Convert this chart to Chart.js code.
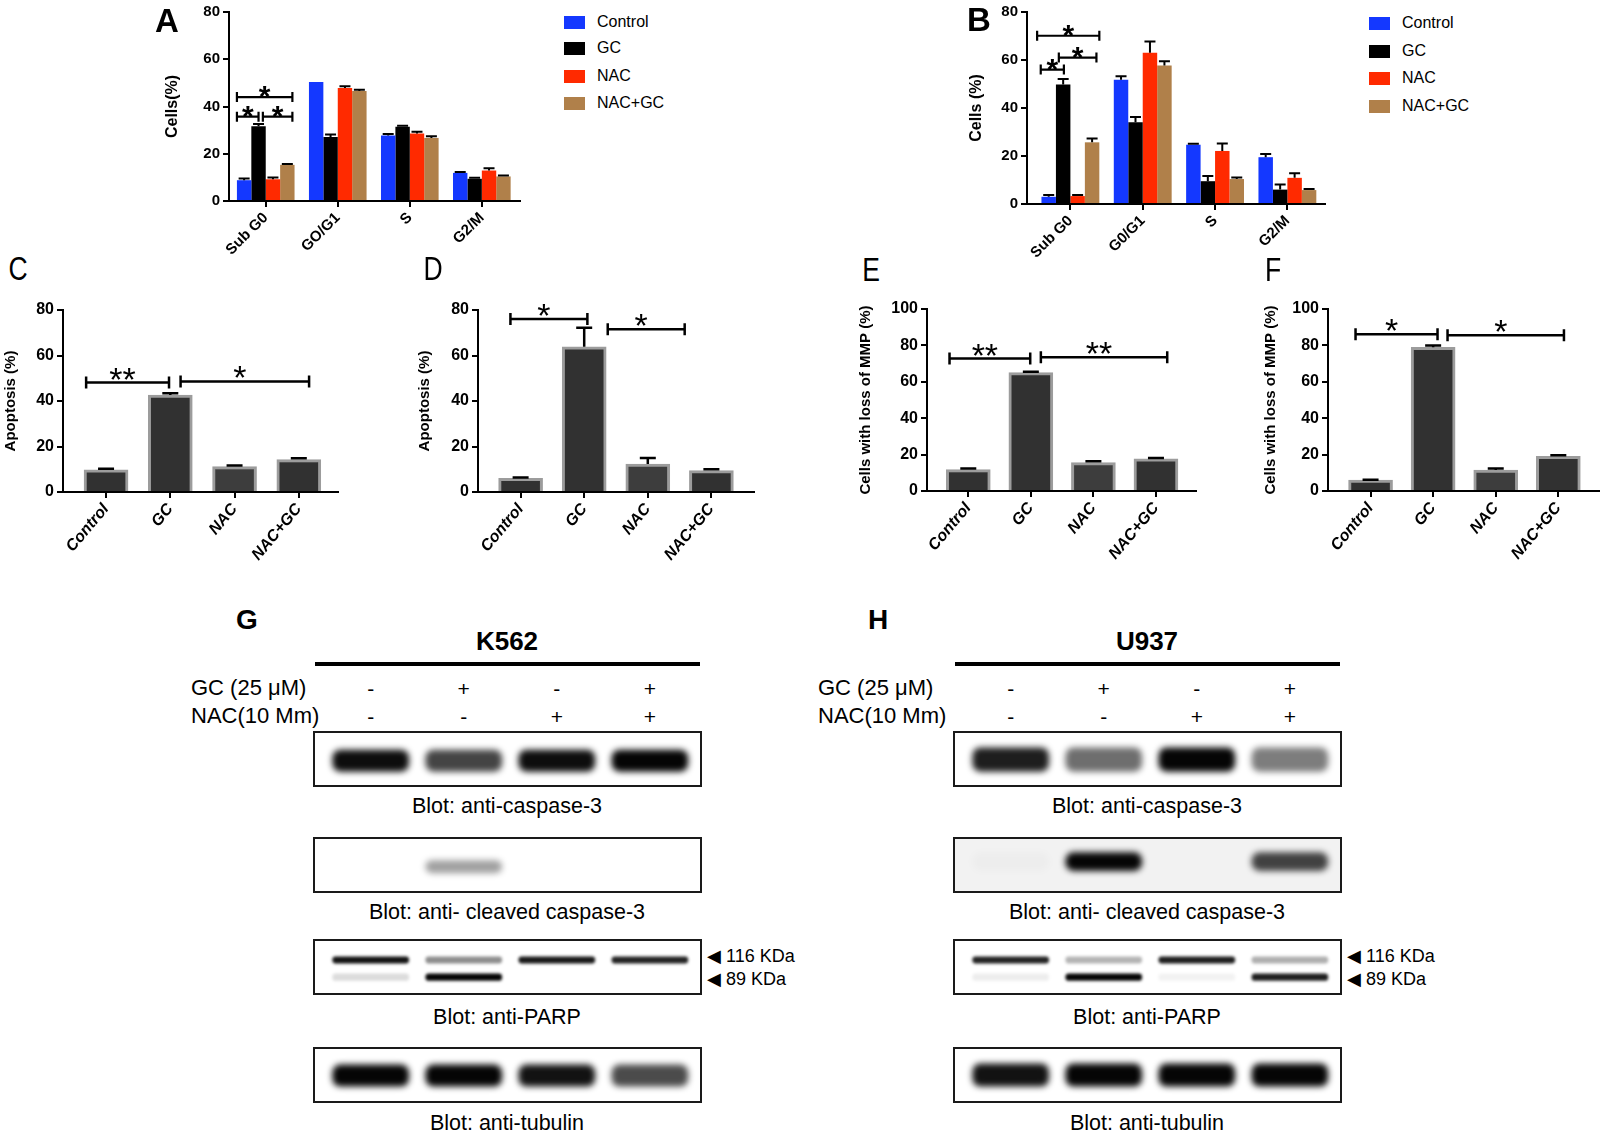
<!DOCTYPE html>
<html>
<head>
<meta charset="utf-8">
<script src="https://cdn.jsdelivr.net/npm/chart.js@4.4.1/dist/chart.umd.min.js"></script>
<style>
  body { margin: 0; background: #fff; width: 1603px; height: 1136px; position: relative; overflow: hidden;
         font-family: "Liberation Sans", Arial, sans-serif; color: #000; }
  .box { position: absolute; }
  .txt { position: absolute; white-space: nowrap; line-height: 1; }
  .sw { position: absolute; }
</style>
</head>
<body>

<div class="box" style="left:161px;top:0px;width:370px;height:262px"><canvas id="chartA"></canvas></div>
<div class="box" style="left:965px;top:0px;width:370px;height:265px"><canvas id="chartB"></canvas></div>
<div class="box" style="left:0px;top:290px;width:345px;height:290px"><canvas id="chartC"></canvas></div>
<div class="box" style="left:414px;top:290px;width:350px;height:290px"><canvas id="chartD"></canvas></div>
<div class="box" style="left:855px;top:290px;width:350px;height:290px"><canvas id="chartE"></canvas></div>
<div class="box" style="left:1260px;top:290px;width:343px;height:290px"><canvas id="chartF"></canvas></div>

<script>
// ---- data ----
const phasesA = ['Sub G0', 'GO/G1', 'S', 'G2/M'];
const phasesB = ['Sub G0', 'G0/G1', 'S', 'G2/M'];
const treatments = ['Control', 'GC', 'NAC', 'NAC+GC'];
const treatColors = ['#1438ff', '#000000', '#ff2a00', '#b0804a'];

// panel A, cell cycle (%)
const aControl = [8.8, 50.4, 27.7, 11.9];
const aGC = [31.6, 27.1, 31.4, 9.4];
const aNAC = [9.2, 47.8, 28.6, 12.9];
const aNACGC = [15.3, 46.6, 26.7, 10.4];
const aControlErr = [0.7, 0, 0.7, 0.4];
const aGCErr = [1.0, 1.0, 0.4, 0.4];
const aNACErr = [0.7, 0.8, 0.7, 1.0];
const aNACGCErr = [0.4, 0.5, 0.7, 0.4];

// panel B, cell cycle (%)
const bControl = [3.0, 51.8, 24.7, 19.5];
const bGC = [49.8, 34.1, 9.5, 6.0];
const bNAC = [3.3, 63.0, 22.1, 10.9];
const bNACGC = [25.7, 57.7, 10.4, 5.8];
const bControlErr = [0.8, 1.4, 0.4, 1.3];
const bGCErr = [2.3, 2.2, 2.2, 2.1];
const bNACErr = [0.4, 4.7, 3.1, 1.9];
const bNACGCErr = [1.6, 1.8, 0.6, 0.5];

// panels C-F
const cApoptosis = [9.8, 42.6, 11.2, 14.3];
const cErr = [0.4, 0.8, 0.4, 0.5];
const dApoptosis = [6.0, 63.8, 12.3, 9.4];
const dErr = [0.4, 8.4, 2.6, 0.6];
const eMMP = [11.8, 65.0, 15.6, 17.7];
const eErr = [0.5, 0.5, 0.8, 0.5];
const fMMP = [6.0, 79.0, 11.5, 19.0];
const fErr = [0.2, 1.0, 0.9, 0.6];

// western blots: band intensity per lane (0 = none, 1 = saturated)
const lanes = [0, 1, 2, 3];
const gcSigns = ['-', '+', '-', '+'];
const nacSigns = ['-', '-', '+', '+'];
const k562Casp3 = [0.97, 0.75, 0.97, 1.0];
const k562Cleaved = [0, 0.38, 0, 0];
const k562Parp116 = [0.95, 0.45, 0.92, 0.88];
const k562Parp89 = [0.14, 1.0, 0, 0];
const k562Tubulin = [1.0, 1.0, 0.95, 0.72];
const u937Casp3 = [0.9, 0.58, 1.0, 0.52];
const u937Cleaved = [0.02, 1.0, 0, 0.75];
const u937Parp116 = [0.88, 0.3, 0.9, 0.32];
const u937Parp89 = [0.07, 1.0, 0.05, 0.9];
const u937Tubulin = [0.95, 1.0, 1.0, 1.0];

// ---- plugins ----
Chart.defaults.animation = false;
Chart.defaults.color = '#000';
Chart.defaults.font.family = '"Liberation Sans", Arial, sans-serif';

const errorBars = {
  id: 'errorBars',
  afterDatasetsDraw(chart, args, opts) {
    const ctx = chart.ctx, ys = chart.scales.y;
    chart.data.datasets.forEach((ds, di) => {
      if (!ds.errors) return;
      chart.getDatasetMeta(di).data.forEach((bar, i) => {
        const e = ds.errors[i];
        if (!e) return;
        const top = ys.getPixelForValue(ys.getValueForPixel(bar.y) + e);
        ctx.save();
        ctx.strokeStyle = '#000';
        ctx.lineWidth = opts.lineWidth || 2;
        ctx.beginPath();
        ctx.moveTo(bar.x, bar.y);
        ctx.lineTo(bar.x, top);
        ctx.moveTo(bar.x - opts.cap / 2, top);
        ctx.lineTo(bar.x + opts.cap / 2, top);
        ctx.stroke();
        ctx.restore();
      });
    });
  }
};

const brackets = {
  id: 'brackets',
  afterDraw(chart, args, opts) {
    if (!opts.items) return;
    const ctx = chart.ctx, xs = chart.scales.x, ys = chart.scales.y;
    const px = (p) => {
      if (typeof p === 'number') return xs.getPixelForValue(p);
      const bar = chart.getDatasetMeta(p[0]).data[p[1]];
      return bar.x + p[2] * bar.width;
    };
    opts.items.forEach(it => {
      const x1 = px(it.from), x2 = px(it.to), y = ys.getPixelForValue(it.y);
      ctx.save();
      ctx.strokeStyle = '#000';
      ctx.lineWidth = opts.lineWidth;
      ctx.beginPath();
      ctx.moveTo(x1, y); ctx.lineTo(x2, y);
      ctx.moveTo(x1, y - opts.tick); ctx.lineTo(x1, y + opts.tick);
      ctx.moveTo(x2, y - opts.tick); ctx.lineTo(x2, y + opts.tick);
      ctx.stroke();
      ctx.fillStyle = '#000';
      ctx.font = opts.font;
      ctx.textAlign = 'center';
      ctx.textBaseline = 'alphabetic';
      ctx.fillText(it.text, (x1 + x2) / 2 + (opts.shift || 0), y + opts.raise);
      ctx.restore();
    });
  }
};

function axisY(title, max, width, tickFont, titleFont) {
  return {
    min: 0, max: max,
    afterFit: s => { s.width = width; },
    ticks: { stepSize: 20, font: tickFont, padding: 3 },
    grid: { drawOnChartArea: false, tickLength: 6, color: '#000', lineWidth: 2 },
    border: { color: '#000', width: 2 },
    title: { display: true, text: title, font: titleFont, padding: { top: 2, bottom: 2 } }
  };
}

// x axis on a linear scale so the axis line can run past the outer bars, as in the figure
function axisX(names, min, max, height, rot, font) {
  return {
    type: 'linear', min: min, max: max, offset: false,
    afterBuildTicks: s => { s.ticks = lanes.map(v => ({ value: v })); },
    afterFit: s => { s.height = height; },
    ticks: { autoSkip: false, minRotation: rot, maxRotation: rot, callback: v => names[v], font: font, padding: 2 },
    grid: { offset: false, drawOnChartArea: false, tickLength: 6, color: '#000', lineWidth: 2 },
    border: { color: '#000', width: 2 }
  };
}

// ---- grouped cell-cycle charts ----
function cycleChart(id, cats, vals, errs, yTitle, lay, items) {
  return new Chart(document.getElementById(id), {
    type: 'bar',
    data: {
      datasets: treatments.map((t, k) => ({
        label: t, data: lanes.map(i => ({ x: i, y: vals[k][i] })), errors: errs[k],
        backgroundColor: treatColors[k], borderWidth: 0,
        categoryPercentage: 0.8, barPercentage: 1.0
      }))
    },
    options: {
      responsive: true, maintainAspectRatio: false,
      layout: { padding: { top: lay.pt, right: lay.pr, left: 0, bottom: 0 } },
      plugins: {
        legend: { display: false }, tooltip: { enabled: false },
        errorBars: { cap: 11, lineWidth: 2 },
        brackets: { items: items, lineWidth: 2.2, tick: 5, font: 'bold 30px "Liberation Sans", Arial', raise: 9 }
      },
      scales: {
        x: axisX(cats, lay.min, lay.max, lay.xh, 45, { size: 15, weight: 'bold' }),
        y: axisY(yTitle, 80, lay.yw, { size: 15, weight: 'bold' }, { size: 16, weight: 'bold' })
      }
    },
    plugins: [errorBars, brackets]
  });
}

cycleChart('chartA', phasesA, [aControl, aGC, aNAC, aNACGC], [aControlErr, aGCErr, aNACErr, aNACGCErr],
  'Cells(%)', { pt: 8, pr: 11, xh: 61, yw: 68, min: -0.51, max: 3.53 }, [
    { from: [0, 0, -0.5], to: [3, 0, 0.35], y: 44, text: '*' },
    { from: [0, 0, -0.5], to: [1, 0, 0], y: 35.7, text: '*' },
    { from: [1, 0, 0.3], to: [3, 0, 0.35], y: 35.7, text: '*' }
  ]);

cycleChart('chartB', phasesB, [bControl, bGC, bNAC, bNACGC], [bControlErr, bGCErr, bNACErr, bNACGCErr],
  'Cells (%)', { pt: 10, pr: 10, xh: 61, yw: 62, min: -0.6, max: 3.52 }, [
    { from: [0, 0, -0.8], to: [3, 0, 0.5], y: 70.1, text: '*' },
    { from: [1, 0, -0.3], to: [3, 0, 0.3], y: 61, text: '*' },
    { from: [0, 0, -0.55], to: [1, 0, 0.05], y: 56, text: '*' }
  ]);

// ---- single-series bar charts ----
function treatChart(id, vals, errs, yTitle, max, lay, items) {
  return new Chart(document.getElementById(id), {
    type: 'bar',
    data: {
      datasets: [{
        data: lanes.map(i => ({ x: i, y: vals[i] })), errors: errs,
        backgroundColor: ['#313131', '#313131', '#3d3d3d', '#313131'],
        borderColor: '#9c9c9c', borderWidth: 3, barThickness: 44
      }]
    },
    options: {
      responsive: true, maintainAspectRatio: false,
      layout: { padding: { top: lay.pt, right: lay.pr, left: 0, bottom: 0 } },
      plugins: {
        legend: { display: false }, tooltip: { enabled: false },
        errorBars: { cap: 16, lineWidth: 2.5 },
        brackets: { items: items, lineWidth: 2.5, tick: 6, font: '34px "Liberation Sans", Arial', raise: 8, shift: -5 }
      },
      scales: {
        x: axisX(treatments, lay.min, lay.max, lay.xh, 50, { size: 16, style: 'italic', weight: 'bold' }),
        y: axisY(yTitle, max, lay.yw, { size: 16, weight: 'bold' }, { size: 15, weight: 'bold' })
      }
    },
    plugins: [errorBars, brackets]
  });
}

treatChart('chartC', cApoptosis, cErr, 'Apoptosis (%)', 80,
  { pt: 20, pr: 7, xh: 88, yw: 63, min: -0.67, max: 3.61 }, [
  { from: -0.31, to: 0.98, y: 48.1, text: '**' },
  { from: 1.16, to: 3.16, y: 48.6, text: '*' }
]);
treatChart('chartD', dApoptosis, dErr, 'Apoptosis (%)', 80,
  { pt: 20, pr: 10, xh: 88, yw: 64, min: -0.67, max: 3.67 }, [
  { from: -0.16, to: 1.05, y: 76, text: '*' },
  { from: 1.37, to: 2.58, y: 71.5, text: '*' }
]);
treatChart('chartE', eMMP, eErr, 'Cells with loss of MMP (%)', 100,
  { pt: 19, pr: 9, xh: 89, yw: 72, min: -0.66, max: 3.64 }, [
  { from: -0.3, to: 0.99, y: 72.8, text: '**' },
  { from: 1.16, to: 3.18, y: 73.5, text: '**' }
]);
treatChart('chartF', fMMP, fErr, 'Cells with loss of MMP (%)', 100,
  { pt: 19, pr: 4, xh: 89, yw: 68, min: -0.68, max: 3.65 }, [
  { from: -0.24, to: 1.07, y: 86.1, text: '*' },
  { from: 1.23, to: 3.09, y: 85.6, text: '*' }
]);

// ---- text helpers ----
function put(text, x, y, css, anchor) {
  const d = document.createElement('div');
  d.className = 'txt';
  d.textContent = text;
  d.style.cssText = css;
  d.style.left = x + 'px';
  d.style.top = y + 'px';
  const sx = d.style.getPropertyValue('--sx') || '1';
  d.style.transform = (anchor === 'l' ? 'translate(0,-50%)' : 'translate(-50%,-50%)') + ` scaleX(${sx})`;
  document.body.appendChild(d);
}
function rect(x, y, w, h, color) {
  const d = document.createElement('div');
  d.className = 'sw';
  d.style.cssText = `left:${x}px;top:${y}px;width:${w}px;height:${h}px;background:${color}`;
  document.body.appendChild(d);
}

// legends for A and B
function legend(x, ys) {
  treatments.forEach((t, k) => {
    rect(x, ys[k] - 6, 21, 13, treatColors[k]);
    put(t, x + 33, ys[k], 'font-size:16px', 'l');
  });
}
legend(564, [22, 48, 76, 103]);
legend(1369, [23, 51, 78, 106]);

// panel letters
const bold = 'font-weight:bold;';
put('A', 167, 20, bold + 'font-size:33px');
put('B', 979, 19, bold + 'font-size:33px');
const nar = 'font-size:34px;--sx:0.78;';
put('C', 18, 268, nar);
put('D', 433, 268, nar);
put('E', 871, 269, nar);
put('F', 1273, 269, nar);
put('G', 247, 620, bold + 'font-size:28px');
put('H', 878, 620, bold + 'font-size:28px');

// ---- western blots ----
const blurBands = {
  id: 'blurBands',
  beforeDatasetsDraw(chart, args, opts) { chart.ctx.save(); chart.ctx.filter = `blur(${opts.px}px)`; },
  afterDatasetsDraw(chart) { chart.ctx.filter = 'none'; chart.ctx.restore(); }
};
const blotFrame = {
  id: 'blotFrame',
  beforeDraw(chart, args, opts) {
    const a = chart.chartArea, ctx = chart.ctx;
    ctx.save();
    ctx.fillStyle = opts.bg || '#fff';
    ctx.fillRect(a.left, a.top, a.width, a.height);
    ctx.restore();
  },
  afterDraw(chart) {
    const a = chart.chartArea, ctx = chart.ctx;
    ctx.save();
    ctx.strokeStyle = '#1a1a1a';
    ctx.lineWidth = 2;
    ctx.strokeRect(a.left + 1, a.top + 1, a.width - 2, a.height - 2);
    ctx.restore();
  }
};

function blot(x, y, w, h, rows, bg, blur) {
  const box = document.createElement('div');
  box.className = 'box';
  box.style.cssText = `left:${x}px;top:${y}px;width:${w}px;height:${h}px`;
  const cv = document.createElement('canvas');
  box.appendChild(cv);
  document.body.appendChild(box);
  return new Chart(cv, {
    type: 'bar',
    data: {
      datasets: rows.map(r => ({
        data: lanes.map(i => ({ x: i, y: [r.lo, r.hi] })),
        backgroundColor: r.vals.map(a => `rgba(5,5,5,${a})`),
        barThickness: 76, borderRadius: 8, borderSkipped: false, grouped: false
      }))
    },
    options: {
      responsive: true, maintainAspectRatio: false,
      layout: { padding: 0 },
      plugins: { legend: { display: false }, tooltip: { enabled: false }, blotFrame: { bg: bg }, blurBands: { px: blur } },
      scales: {
        x: { type: 'linear', min: -0.62, max: 3.56, offset: false, display: false },
        y: { min: 0, max: 1, display: false }
      }
    },
    plugins: [blotFrame, blurBands]
  });
}

function blotPanel(x0, cell, titleX, rowLabelX, strips, noisy) {
  const w = 389;
  const stripY = [731, 837, 939, 1047];
  const labelY = [807, 913, 1018, 1124];
  const labels = ['Blot: anti-caspase-3', 'Blot: anti- cleaved caspase-3', 'Blot: anti-PARP', 'Blot: anti-tubulin'];
  let first = null;
  strips.forEach((rows, k) => {
    const c = blot(x0, stripY[k], w, 56, rows, k === 1 && noisy ? '#f2f2f2' : '#fff', k === 2 ? 1.6 : 3);
    if (!first) first = c;
    put(labels[k], titleX, labelY[k], 'font-size:21.5px');
  });
  // treatment signs aligned with the lane positions of the blot scale
  lanes.forEach(i => {
    const px = x0 + first.scales.x.getPixelForValue(i);
    put(gcSigns[i], px, 688, 'font-size:21px');
    put(nacSigns[i], px, 716, 'font-size:21px');
  });
  put('GC (25 μM)', rowLabelX, 688, 'font-size:22px', 'l');
  put('NAC(10 Mm)', rowLabelX, 716, 'font-size:22px', 'l');
  put(cell, titleX, 641, bold + 'font-size:26px');
  rect(x0 + 2, 662, w - 4, 4, '#000');
  put('◀ 116 KDa', x0 + w + 5, 956, 'font-size:18px', 'l');
  put('◀ 89 KDa', x0 + w + 5, 979, 'font-size:18px', 'l');
}

blotPanel(313, 'K562', 507, 191, [
  [{ vals: k562Casp3, lo: 0.28, hi: 0.66 }],
  [{ vals: k562Cleaved, lo: 0.36, hi: 0.58 }],
  [{ vals: k562Parp116, lo: 0.57, hi: 0.68 }, { vals: k562Parp89, lo: 0.26, hi: 0.38 }],
  [{ vals: k562Tubulin, lo: 0.3, hi: 0.68 }]
], false);

blotPanel(953, 'U937', 1147, 818, [
  [{ vals: u937Casp3, lo: 0.28, hi: 0.7 }],
  [{ vals: u937Cleaved, lo: 0.4, hi: 0.72 }],
  [{ vals: u937Parp116, lo: 0.57, hi: 0.68 }, { vals: u937Parp89, lo: 0.26, hi: 0.38 }],
  [{ vals: u937Tubulin, lo: 0.3, hi: 0.7 }]
], true);
</script>
</body>
</html>
